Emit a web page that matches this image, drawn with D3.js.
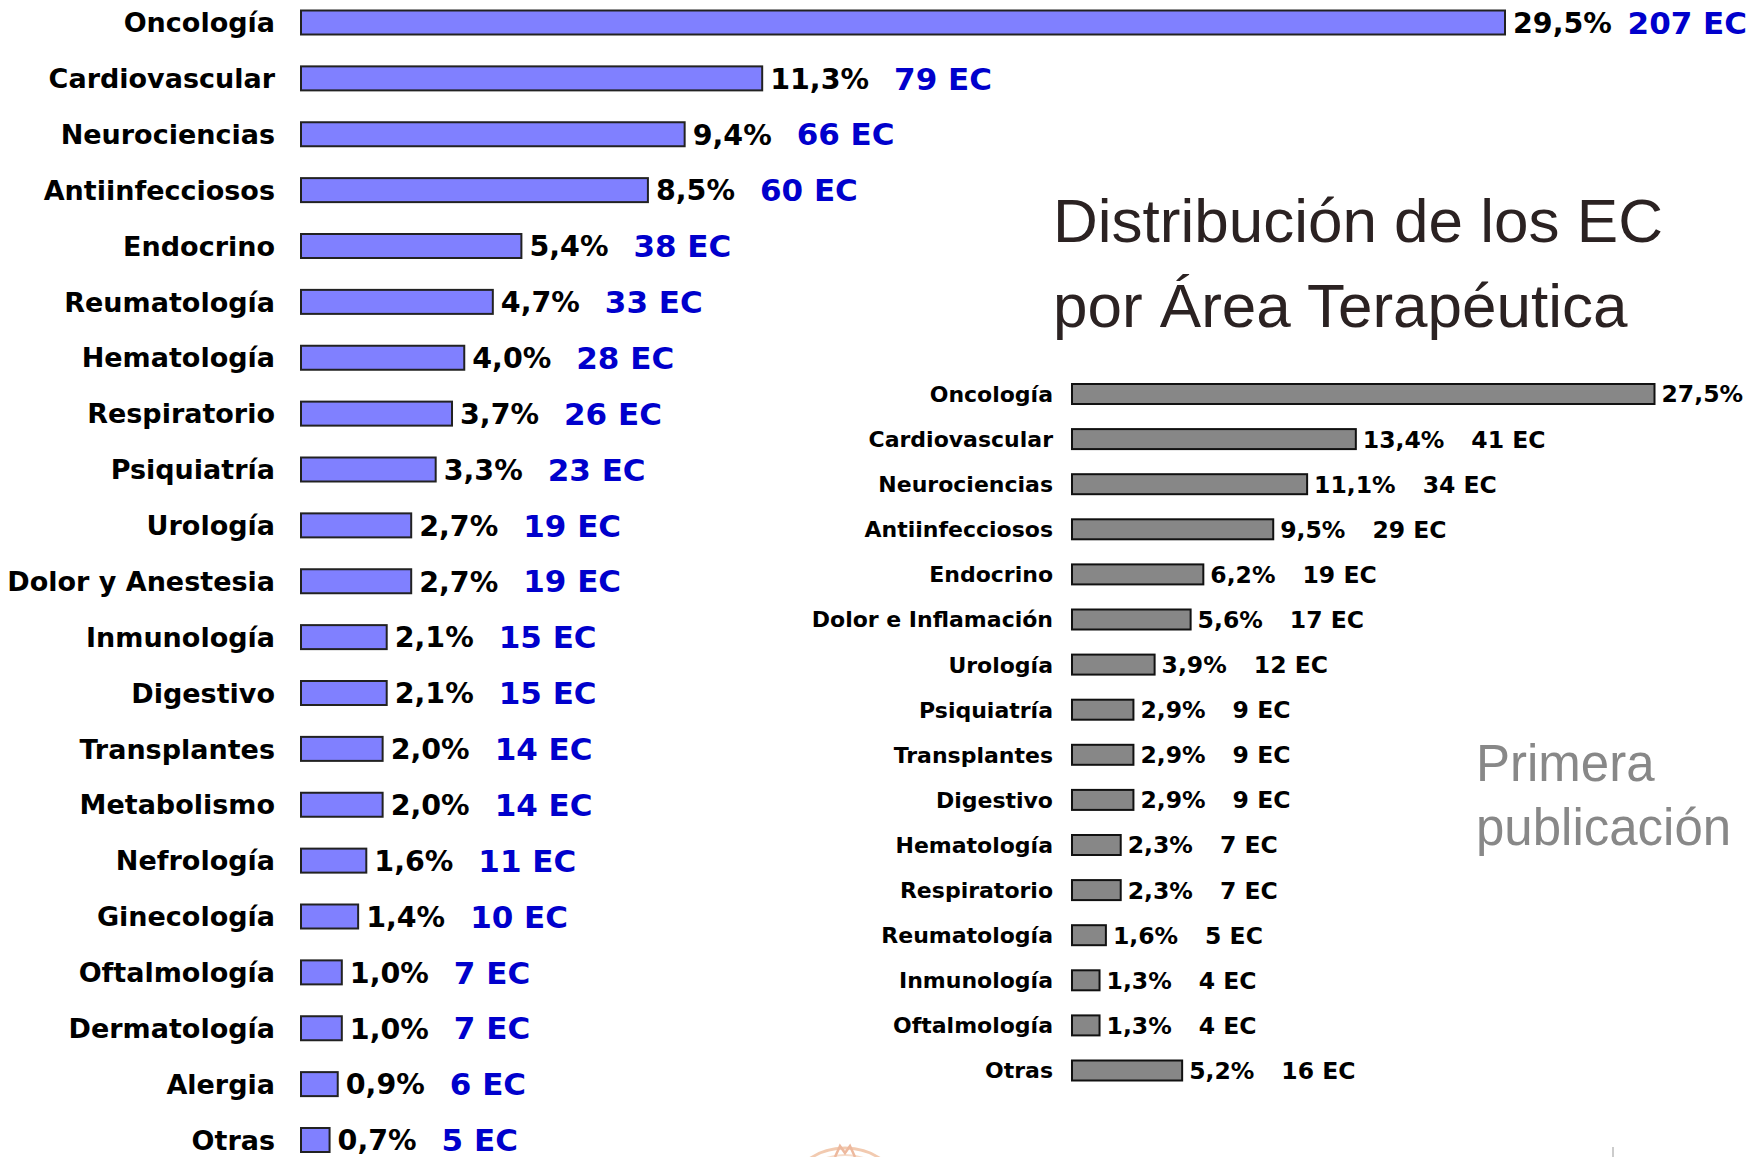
<!DOCTYPE html>
<html><head><meta charset="utf-8">
<script src="https://cdn.jsdelivr.net/npm/d3@7"></script>
<style>html,body{margin:0;padding:0;background:#fff;overflow:hidden}</style>
</head><body>
<script>
// ---- Data: all trials (left) ----
const leftCategories = ["Oncología","Cardiovascular","Neurociencias","Antiinfecciosos","Endocrino","Reumatología","Hematología","Respiratorio","Psiquiatría","Urología","Dolor y Anestesia","Inmunología","Digestivo","Transplantes","Metabolismo","Nefrología","Ginecología","Oftalmología","Dermatología","Alergia","Otras"];
const leftPercent = [29.5,11.3,9.4,8.5,5.4,4.7,4.0,3.7,3.3,2.7,2.7,2.1,2.1,2.0,2.0,1.6,1.4,1.0,1.0,0.9,0.7];
const leftCount = [207,79,66,60,38,33,28,26,23,19,19,15,15,14,14,11,10,7,7,6,5];

// ---- Data: first publication (right) ----
// Oncología's count label falls outside the picture in the reference, so it is not shown (null).
const rightCategories = ["Oncología","Cardiovascular","Neurociencias","Antiinfecciosos","Endocrino","Dolor e Inflamación","Urología","Psiquiatría","Transplantes","Digestivo","Hematología","Respiratorio","Reumatología","Inmunología","Oftalmología","Otras"];
const rightPercent = [27.5,13.4,11.1,9.5,6.2,5.6,3.9,2.9,2.9,2.9,2.3,2.3,1.6,1.3,1.3,5.2];
const rightCount = [null,41,34,29,19,17,12,9,9,9,7,7,5,4,4,16];

const titleLines = ["Distribución de los EC","por Área Terapéutica"];
const subtitleLines = ["Primera","publicación"];

const W = 1753, H = 1157;
const fmtPct = v => d3.format(".1f")(v).replace(".", ",") + "%";
const fmtEC = v => v == null ? "" : v + " EC";

const svg = d3.select("body").append("svg").attr("width", W).attr("height", H)
  .style("font-family", "'DejaVu Sans', Verdana, sans-serif");

function drawChart(cfg) {
  const data = cfg.cats.map((c, i) => ({cat: c, pct: cfg.pct[i], n: cfg.cnt[i]}));
  const x = d3.scaleLinear().domain([0, d3.max(cfg.pct)]).range([0, cfg.maxLen]);
  const y = d3.scalePoint().domain(cfg.cats).range(cfg.yRange);
  const g = svg.append("g").attr("transform", `translate(${cfg.x0},0)`);
  const rows = g.selectAll("g.row").data(data).join("g").attr("class", "row")
    .attr("transform", d => `translate(0,${y(d.cat)})`);
  rows.append("rect")
    .attr("x", 0).attr("y", -cfg.barH / 2)
    .attr("width", d => x(d.pct)).attr("height", cfg.barH)
    .attr("fill", cfg.fill).attr("stroke", cfg.stroke).attr("stroke-width", cfg.sw);
  rows.append("text")
    .attr("x", -cfg.labelGap).attr("dy", "0.36em").attr("text-anchor", "end")
    .attr("font-size", cfg.labelSize).attr("font-weight", "bold").attr("fill", "#000")
    .text(d => d.cat);
  const pctT = rows.append("text")
    .attr("x", d => x(d.pct) + cfg.pctGap).attr("dy", "0.36em")
    .attr("font-size", cfg.pctSize).attr("font-weight", "bold").attr("fill", "#000")
    .text(d => fmtPct(d.pct));
  rows.filter(d => d.n != null).append("text")
    .attr("dy", "0.36em")
    .attr("font-size", cfg.ecSize).attr("font-weight", "bold").attr("fill", cfg.ecColor)
    .text(d => fmtEC(d.n))
    .each(function(d) {
      const i = data.indexOf(d);
      const pw = pctT.nodes()[i].getComputedTextLength();
      let xx = x(d.pct) + cfg.pctGap + pw + cfg.ecGap;
      const ew = this.getComputedTextLength();
      if (cfg.fit && cfg.x0 + xx + ew > W - 6) xx = Math.max(x(d.pct) + cfg.pctGap + pw + 12, W - 6 - ew - cfg.x0);
      d3.select(this).attr("x", xx);
    });
}

drawChart({
  cats: leftCategories, pct: leftPercent, cnt: leftCount,
  x0: 301, maxLen: 1204, yRange: [22.5, 1140], barH: 24,
  fill: "#8080ff", stroke: "#222", sw: 2,
  labelGap: 26, labelSize: 27, pctGap: 8, pctSize: 28.5,
  ecGap: 25, ecSize: 31, ecColor: "#0000cc", fit: true
});

drawChart({
  cats: rightCategories, pct: rightPercent, cnt: rightCount,
  x0: 1072, maxLen: 582.5, yRange: [394, 1070.5], barH: 20,
  fill: "#878787", stroke: "#111", sw: 2,
  labelGap: 19, labelSize: 22, pctGap: 7, pctSize: 23.5,
  ecGap: 27, ecSize: 23.5, ecColor: "#000", fit: false
});

// Title
svg.append("g").selectAll("text").data(titleLines).join("text")
  .attr("x", 1053).attr("y", (d, i) => 242 + i * 85)
  .attr("font-family", "'Liberation Sans', Arial, sans-serif")
  .attr("font-size", 62).attr("fill", "#2b2222")
  .text(d => d);

// Subtitle
svg.append("g").selectAll("text").data(subtitleLines).join("text")
  .attr("x", 1476).attr("y", (d, i) => 781 + i * 64)
  .attr("font-family", "'Liberation Sans', Arial, sans-serif")
  .attr("font-size", 51).attr("fill", "#888")
  .text(d => d);

// Faint logo fragment and divider at the bottom
const logo = svg.append("g").attr("opacity", 0.55);
logo.append("ellipse").attr("cx", 845).attr("cy", 1200).attr("rx", 58).attr("ry", 52)
  .attr("fill", "none").attr("stroke", "#e8a070").attr("stroke-width", 3);
logo.append("ellipse").attr("cx", 845).attr("cy", 1200).attr("rx", 50).attr("ry", 45)
  .attr("fill", "none").attr("stroke", "#f0c0a0").attr("stroke-width", 2);
logo.append("path").attr("d", "M835,1157 L840,1146 L845,1153 L850,1146 L855,1157")
  .attr("fill", "none").attr("stroke", "#e08050").attr("stroke-width", 2.5);
svg.append("line").attr("x1", 1613).attr("x2", 1613).attr("y1", 1147).attr("y2", 1157)
  .attr("stroke", "#bbb").attr("stroke-width", 1.5);
</script>
</body></html>
